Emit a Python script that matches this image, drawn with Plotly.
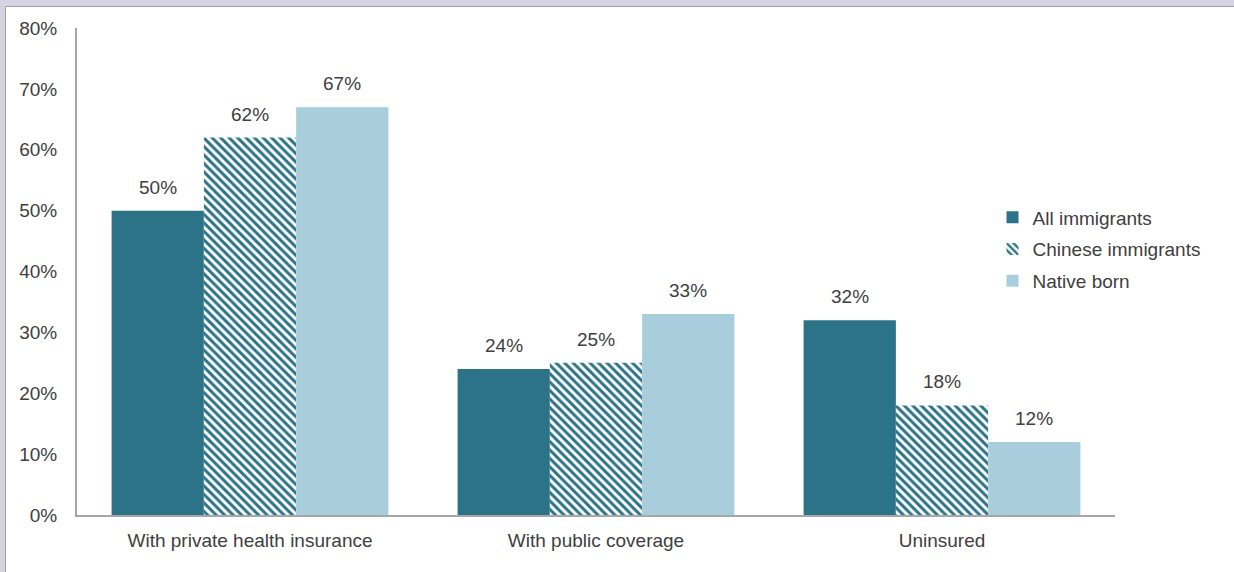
import plotly.graph_objects as go

categories = ["With private health insurance", "With public coverage", "Uninsured"]
series_names = ["All immigrants", "Chinese immigrants", "Native born"]
all_immigrants = [0.50, 0.24, 0.32]
chinese_immigrants = [0.62, 0.25, 0.18]
native_born = [0.67, 0.33, 0.12]
y_ticks = [0, 0.1, 0.2, 0.3, 0.4, 0.5, 0.6, 0.7, 0.8]

DARK = "#2C7387"
LIGHT = "#A8CEDC"
TEXT = "#404040"
FONT = "Liberation Sans, Arial, sans-serif"
FS = 19

fig = go.Figure()
fig.add_trace(go.Bar(name=series_names[0], x=categories, y=all_immigrants, legendgroup="a",
                     marker=dict(color=DARK, line=dict(width=0))))
fig.add_trace(go.Bar(name=series_names[1], x=categories, y=chinese_immigrants, legendgroup="b",
                     marker=dict(color="white", line=dict(width=0),
                                 pattern=dict(shape="\\", fgcolor=DARK, bgcolor="white",
                                              size=6, solidity=0.5, fillmode="replace"))))
fig.add_trace(go.Bar(name=series_names[2], x=categories, y=native_born, legendgroup="c",
                     marker=dict(color=LIGHT, line=dict(width=0))))

W, H = 1234, 572
ml, mr, mt, mb = 77, 119, 28, 57
pw = W - ml - mr
ph = H - mt - mb
bar_px = pw / 3 * 0.8 / 3

annotations = []
for i, vals in enumerate([all_immigrants, chinese_immigrants, native_born]):
    for c, v in zip(categories, vals):
        annotations.append(dict(x=c, y=v, xref="x", yref="y", text=f"{v:.0%}",
                                showarrow=False, yanchor="bottom", yshift=11,
                                xshift=(i - 1) * bar_px,
                                font=dict(family=FONT, size=FS, color=TEXT)))

# outer frame
shapes = [dict(type="rect", xref="paper", yref="paper", layer="below",
               x0=(5.5 - ml) / pw, x1=(W + 20 - ml) / pw,
               y0=(H - mb - (H + 20)) / ph, y1=(H - mb - 6.5) / ph,
               fillcolor="white", line=dict(color="#A0A0A0", width=1))]

fig.update_layout(
    width=W, height=H,
    margin=dict(l=ml, r=mr, t=mt, b=mb, pad=0),
    paper_bgcolor="#D6D4E2",
    plot_bgcolor="rgba(0,0,0,0)",
    barmode="group", bargap=0.2, bargroupgap=0,
    font=dict(family=FONT, size=FS, color=TEXT),
    showlegend=True,
    legend=dict(x=0.882, xanchor="left", y=0.65, yanchor="top",
                font=dict(family=FONT, size=FS, color=TEXT),
                bgcolor="rgba(0,0,0,0)", itemwidth=30, tracegroupgap=4),
    annotations=annotations,
    shapes=shapes,
    xaxis=dict(showline=True, linecolor="#A6A6A6", linewidth=2, showgrid=False,
               ticks="", ticklabelstandoff=7, tickfont=dict(size=FS, color=TEXT)),
    yaxis=dict(range=[0, 0.8], tickvals=y_ticks, tickformat=".0%", showline=True,
               linecolor="#A6A6A6", linewidth=2, showgrid=False, zeroline=False,
               ticks="", ticklabelstandoff=14, tickfont=dict(size=FS, color=TEXT)),
)

fig.write_html("out.html")
